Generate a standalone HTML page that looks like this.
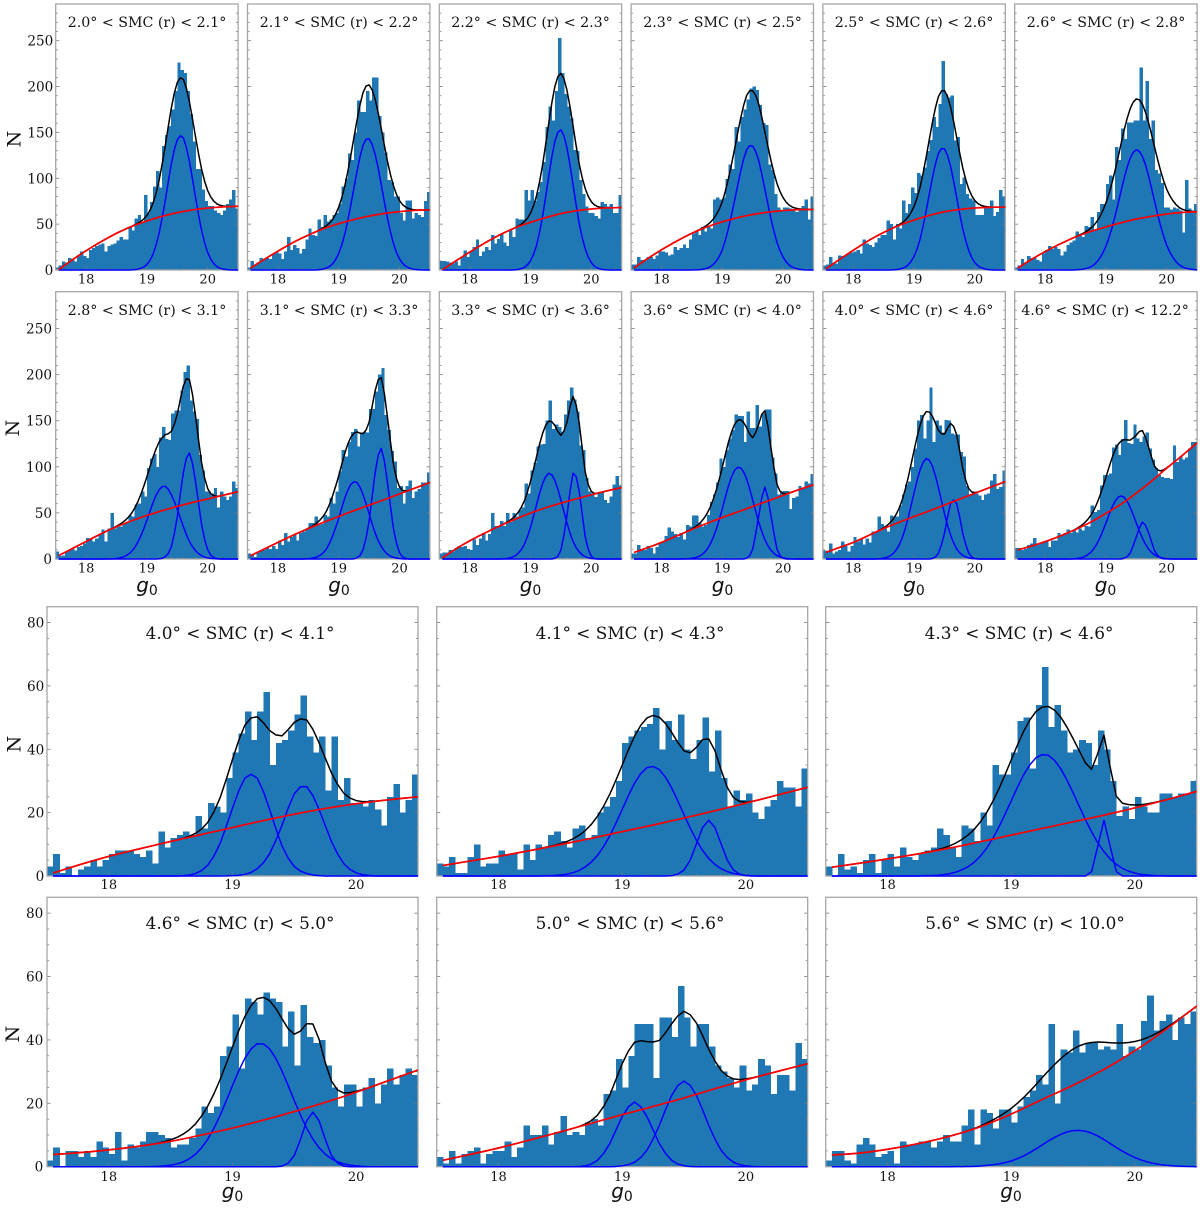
<!DOCTYPE html>
<html lang="en">
<head>
<meta charset="utf-8">
<title>SMC radial g0 histograms</title>
<style>
html,body{margin:0;padding:0;background:#fff;}
svg{display:block;}
.ttl{font-family:"DejaVu Serif","Liberation Serif",serif;fill:#111;text-anchor:middle;}
.t1{font-size:14.2px;}
.t2{font-size:16.9px;}
.ylab{font-family:"DejaVu Serif","Liberation Serif",serif;font-size:19px;fill:#111;text-anchor:middle;}
.xlab{font-family:"DejaVu Sans","Liberation Sans",sans-serif;font-size:20px;font-style:italic;fill:#111;text-anchor:middle;}
.xlab tspan{font-style:normal;font-size:14px;}
.tick{font-family:"DejaVu Serif","Liberation Serif",serif;fill:#111;}
</style>
</head>
<body>
<svg id="fig" width="1200" height="1209" viewBox="0 0 1200 1209" xmlns="http://www.w3.org/2000/svg">
<rect x="0" y="0" width="1200" height="1209" fill="#ffffff"/>
<g id="marks"></g>

<text class="ttl t1" x="147" y="27">2.0° &lt; SMC (r) &lt; 2.1°</text>
<text class="ttl t1" x="339" y="27">2.1° &lt; SMC (r) &lt; 2.2°</text>
<text class="ttl t1" x="530.5" y="27">2.2° &lt; SMC (r) &lt; 2.3°</text>
<text class="ttl t1" x="722.5" y="27">2.3° &lt; SMC (r) &lt; 2.5°</text>
<text class="ttl t1" x="914" y="27">2.5° &lt; SMC (r) &lt; 2.6°</text>
<text class="ttl t1" x="1106" y="27">2.6° &lt; SMC (r) &lt; 2.8°</text>
<text class="ttl t1" x="147" y="315">2.8° &lt; SMC (r) &lt; 3.1°</text>
<text class="ttl t1" x="339" y="315">3.1° &lt; SMC (r) &lt; 3.3°</text>
<text class="ttl t1" x="530.5" y="315">3.3° &lt; SMC (r) &lt; 3.6°</text>
<text class="ttl t1" x="722.5" y="315">3.6° &lt; SMC (r) &lt; 4.0°</text>
<text class="ttl t1" x="914" y="315">4.0° &lt; SMC (r) &lt; 4.6°</text>
<text class="ttl t1" x="1105" y="315">4.6° &lt; SMC (r) &lt; 12.2°</text>
<text class="ttl t2" x="240" y="639">4.0° &lt; SMC (r) &lt; 4.1°</text>
<text class="ttl t2" x="630" y="639">4.1° &lt; SMC (r) &lt; 4.3°</text>
<text class="ttl t2" x="1019" y="639">4.3° &lt; SMC (r) &lt; 4.6°</text>
<text class="ttl t2" x="240" y="929">4.6° &lt; SMC (r) &lt; 5.0°</text>
<text class="ttl t2" x="630" y="929">5.0° &lt; SMC (r) &lt; 5.6°</text>
<text class="ttl t2" x="1025" y="929">5.6° &lt; SMC (r) &lt; 10.0°</text>

<text class="ylab" transform="translate(20.5,139) rotate(-90)">N</text>
<text class="ylab" transform="translate(19,428) rotate(-90)">N</text>
<text class="ylab" transform="translate(20.5,744) rotate(-90)">N</text>
<text class="ylab" transform="translate(19,1034) rotate(-90)">N</text>

<text class="xlab" x="147" y="592">g<tspan dy="3">0</tspan></text>
<text class="xlab" x="339" y="592">g<tspan dy="3">0</tspan></text>
<text class="xlab" x="530.5" y="592">g<tspan dy="3">0</tspan></text>
<text class="xlab" x="722.5" y="592">g<tspan dy="3">0</tspan></text>
<text class="xlab" x="914" y="592">g<tspan dy="3">0</tspan></text>
<text class="xlab" x="1105.5" y="592">g<tspan dy="3">0</tspan></text>
<text class="xlab" x="232.5" y="1198">g<tspan dy="3">0</tspan></text>
<text class="xlab" x="622" y="1198">g<tspan dy="3">0</tspan></text>
<text class="xlab" x="1011" y="1198">g<tspan dy="3">0</tspan></text>
</svg>

<script>
// ---- bins and tick labels ----
const binStart = 17.5;
const binWidth = 0.05;
const xTickLabels = [18, 19, 20];
const yTickLabelsUpper = [0, 50, 100, 150, 200, 250];
const yTickLabelsLower = [0, 20, 40, 60, 80];

// ---- histogram counts, one array per panel ----
const hist01 = [3,5,9,8,13,11,9,15,20,15,13,22,24,26,28,29,20,26,28,29,32,36,33,33,47,43,56,60,52,82,62,74,91,108,90,135,147,157,175,195,226,218,215,195,170,140,110,110,88,75,70,70,65,62,60,65,72,77,87,67];
const hist02 = [3,10,5,8,13,12,13,12,18,20,18,12,20,36,22,27,24,18,23,33,45,38,37,55,47,60,53,55,60,62,72,91,100,127,120,150,185,172,172,195,185,210,210,168,150,128,98,96,80,80,62,54,76,76,56,62,60,58,75,85];
const hist03 = [10,10,9,8,7,9,5,14,21,14,20,25,33,15,20,25,22,38,29,34,40,30,26,43,36,56,55,55,87,76,87,75,85,96,118,156,178,163,195,253,215,192,178,165,131,130,98,83,69,62,62,59,56,74,72,69,72,62,62,82];
const hist04 = [6,6,14,11,10,14,14,12,16,20,20,19,16,17,25,22,24,28,24,33,40,43,38,47,42,47,45,77,79,77,79,99,115,110,156,140,167,175,186,198,200,196,180,160,158,115,109,83,68,65,68,68,67,66,63,66,70,77,55,80];
const hist05 = [5,6,14,7,7,16,15,16,18,19,20,22,18,33,29,27,25,30,35,38,38,54,50,33,50,45,76,62,72,90,84,106,103,112,130,142,167,156,181,228,192,188,190,141,145,94,101,83,78,76,60,60,60,69,68,76,59,63,87,80];
const hist06 = [3,5,12,8,15,13,14,11,9,18,22,26,23,25,23,16,20,27,30,32,42,38,36,48,47,58,43,63,72,72,94,103,77,134,120,154,143,161,161,163,163,221,163,206,143,163,109,105,95,68,68,66,68,67,65,41,98,67,65,72];
const hist07 = [8,3,4,8,10,11,9,13,14,17,23,22,19,22,26,32,19,33,50,33,35,35,38,39,47,46,59,60,73,68,99,109,114,100,132,143,130,129,158,161,161,183,203,210,172,160,152,113,96,73,73,71,77,56,73,68,64,68,84,77];
const hist08 = [6,5,2,7,9,10,12,11,14,11,20,15,28,19,24,26,20,28,30,32,39,39,46,37,38,48,46,66,60,73,95,118,111,127,138,141,122,137,138,137,163,163,182,200,207,156,140,117,106,77,79,60,79,85,66,73,76,83,83,94];
const hist09 = [6,7,7,10,8,12,14,13,14,11,10,21,15,22,28,20,27,50,36,36,41,36,50,40,50,46,53,56,82,71,96,104,122,124,125,150,172,141,146,143,138,157,172,186,173,160,123,118,88,73,71,67,71,72,64,61,68,81,90,80];
const hist10 = [6,6,15,11,10,14,12,6,13,17,19,25,34,30,27,24,28,21,37,35,47,47,39,35,37,48,62,70,83,109,100,118,131,140,157,155,155,127,160,142,142,167,144,158,162,162,110,93,70,73,74,74,54,66,68,79,77,84,82,92];
const hist11 = [9,7,17,6,8,10,19,14,8,14,24,19,22,16,22,18,30,30,46,38,33,30,47,46,46,58,70,81,84,100,120,150,156,131,150,186,127,150,145,137,151,150,136,135,135,116,111,79,70,72,71,69,64,70,71,85,92,76,78,96];
const hist12 = [12,12,10,11,15,17,23,15,17,18,20,13,20,20,28,26,28,32,28,31,29,33,31,36,35,58,51,53,80,91,91,93,121,124,113,130,151,126,125,146,131,127,133,137,120,108,99,91,89,88,88,87,123,105,111,108,110,120,127,127];
const hist13 = [3,7,1,3,0,2,3,5,3,5,7,8,8,8,7,6,8,4,14,9,12,13,14,13,19,15,23,22,20,31,39,45,52,43,52,58,35,42,43,46,51,57,44,39,44,27,44,24,31,23,23,22,24,21,16,25,29,20,24,32];
const hist14 = [4,3,6,1,1,6,10,3,4,4,8,7,7,2,10,5,10,9,13,14,11,9,15,16,12,13,20,22,25,30,42,44,46,47,48,53,40,49,43,51,40,37,43,50,33,46,31,22,27,24,26,20,18,22,24,30,28,28,22,34];
const hist15 = [3,0,7,2,3,1,5,7,1,5,7,3,9,6,5,7,8,9,15,13,9,6,16,15,11,20,16,35,32,32,39,49,50,34,54,66,47,54,46,39,40,43,42,35,46,40,30,19,22,18,25,22,20,20,26,26,25,26,26,30];
const hist16 = [2,6,0,5,5,3,5,3,8,6,4,11,2,7,6,8,11,11,10,9,6,7,7,9,12,19,17,19,35,38,48,31,53,52,48,55,53,52,38,49,32,51,41,39,40,32,25,19,26,26,19,25,28,20,26,31,26,29,31,29];
const hist17 = [3,1,5,1,4,5,6,1,4,5,5,8,3,6,13,10,10,13,7,11,16,10,11,10,14,15,13,23,24,34,25,35,45,45,45,28,47,47,41,57,47,38,45,45,38,32,30,28,25,32,24,26,34,32,23,29,29,24,39,34];
const hist18 = [2,5,5,2,1,7,9,7,3,4,5,1,8,7,7,8,8,6,8,10,8,8,13,18,7,18,17,12,18,18,14,19,22,24,29,26,45,20,37,36,43,36,39,39,37,38,37,45,35,38,37,46,54,43,46,48,40,47,45,49];

// ---- background (red) curve values, read on bgGrid ----
const bgGrid = [17.5,17.75,18,18.25,18.5,18.75,19,19.25,19.5,19.75,20,20.25,20.5];
const bg01 = [-2,10,21,31,40,47.5,53.5,58.5,62.5,65.5,67.5,68.8,69.5];
const bg02 = [0,10.5,20.5,30,38,45,50.5,55,58.8,61.6,63.6,65,65.6];
const bg03 = [-2,9,19.5,29.5,38.5,46,52,57,61.5,64.5,66.5,67.7,68];
const bg04 = [0,11.5,22,31.5,40,47,52.5,57,60.5,63,64.8,65.8,66];
const bg05 = [-1,10.5,21.5,32,41,48.5,54.5,59.5,63.5,66,67.6,68.4,68.5];
const bg06 = [0,10.5,20,28.5,36,42,47,51.5,55.5,58.5,61,62.7,63.5];
const bg07 = [2,10.5,19,27.5,35,41.5,47.2,52.4,57.1,61.3,65.2,69.1,73];
const bg08 = [2,10,18,25.8,33,39.8,46.2,52.4,58.4,64.4,70.6,76.8,83];
const bg09 = [-1,10,19.7,28.2,36,43.2,49.8,55.6,60.6,65.2,69.6,73.8,77.5];
const bg10 = [6,11.8,18,25,32,38.8,45,51,57,63,69,75,80.5];
const bg11 = [6,12,18,25.5,33,39.8,46,52.2,58.5,65,71.3,77.7,84];
const bg12 = [9,13.5,18.8,25,32,40,49.5,59.5,71.5,84.5,98.5,112,126];
const bg13 = [.3,3.4,6.2,8.6,10.9,13.1,15.3,17.5,19.5,21.3,22.8,24,25];
const bg14 = [3,4.6,6.2,8,9.9,11.9,14,16.1,18.3,20.6,23,25.5,28];
const bg15 = [2.5,3.9,5.4,7,8.8,10.8,12.9,15,17.1,19.2,21.5,24,26.7];
const bg16 = [3.7,4.4,5.3,6.5,8,10,12.2,14.7,17.4,20.3,23.5,27,30.5];
const bg17 = [1.6,3.7,5.9,8.4,11,13.7,16.4,19,21.7,24.6,27.4,30,32.5];
const bg18 = [3.6,4.2,5.5,7.3,9.6,12.6,16.6,21.2,25.7,30.7,36.6,43.3,50.7];

// ---- component (blue) curve values, read on compGrid or a finer local grid ----
const compGrid = [18.3,18.4,18.5,18.6,18.7,18.8,18.9,19,19.1,19.2,19.3,19.4,19.5,19.6,19.7,19.8,19.9,20,20.1,20.2,20.3,20.4,20.5];
const blue01 = [0,0,0,0,0,.4,1.8,6,17,40,75,115,142,144,118,79,43,19,7,2,.5,0,0];
const blue02 = [0,0,0,0,.6,2.2,6.8,18,39,71,107,136,143,126,93,57,29,12,4.4,1.3,.3,0,0];
const blue03 = [0,0,0,0,0,.7,3,10,27,59,102,140,153,133,93,51,23,8,2.2,.5,0,0,0];
const blue04 = [0,0,0,.3,1.1,3.5,9.7,22,45,75,107,131,135,119,88,56,30,14,5.4,1.8,.5,0,0];
const blue05 = [0,0,0,0,.4,1.6,5.4,15,34,65,100,127,132,113,79,45,21,8,2.6,.7,0,0,0];
const blue06 = [0,0,.2,.7,2.1,5.5,13,26,46,72,100,122,131,124,103,75,48,27,14,6,2.3,.8,.2];
const blue07a = [0,.2,.6,2,5.4,12.5,25,42,61,75,79,70,54,35,19,9,3.6,1.2,.4,0,0,0,0];
const blue07b = [0,0,0,0,0,0,0,0,0,.3,2.4,13,46,94,115,84,37,10,1.6,.2,0,0,0];
const blue08a = [0,0,.4,1.4,4.3,11,25,44,66,81,83,70,49,28,13.5,5.3,1.8,.5,0,0,0,0,0];
const blue08b = [0,0,0,0,0,0,0,0,0,0,1.3,10,41,94,120,84,33,7,.8,0,0,0,0];
const blue09a = [0,0,0,.5,2,6.3,16,34.5,59,82,93,85.5,64,39,19,7.8,2.5,.7,0,0,0,0,0];
const blue09b = [0,0,0,0,0,0,0,0,0,0,0,.8,9.6,47,93,74,24,3.1,.2,0,0,0,0];
const blue10a = [0,.2,.7,2.4,6.7,16,32,54.5,79,96,99,87,64,40,21,9.6,3.7,1.2,.3,0,0,0,0];
const blue10b = [0,0,0,0,0,0,0,0,0,0,0,.9,10.6,47,78,47,10.6,.9,0,0,0,0,0];
const blue11a = [0,.2,.9,3.2,9.3,22,44,72,97,109,101,77.5,49,26,11,4,1.2,.3,0,0,0,0,0];
const blue11b = [0,0,0,0,0,0,0,0,0,0,.6,6.2,28,60,60,28,6.2,.6,0,0,0,0,0];
const blue12a = [0,0,.4,1.5,4.5,11,22.7,39,56,67,67,56,39,22.7,11,4.5,1.5,.4,0,0,0,0,0];
const blue12b = [0,0,0,0,0,0,0,0,0,0,.8,6.5,24,40,29,9,1.2,.1,0,0,0,0,0];
const blue13a = [0,0,0,.1,.8,3.4,10.3,21.4,30.9,30.9,21,9.5,3,.8,.1,0,0,0,0,0,0,0,0];
const blue13b = [0,0,0,0,0,0,0,.1,.5,2.3,7,16,26,28.2,21,10.9,3.9,1,.2,0,0,0,0];
const blue14a = [0,.1,.3,1,2.8,6.5,12.7,21,29.3,34.2,33.6,27.8,19.3,11.3,5.5,2.3,.8,.2,0,0,0,0,0];
const fineGrid14 = [19.4,19.45,19.5,19.55,19.6,19.65,19.7,19.75,19.8,19.85,19.9,19.95,20];
const blue14b = [.1,.6,1.9,5,10.1,15.3,17.6,15.3,10.1,5,1.9,.6,.1];
const blue15a = [.1,.2,.7,1.9,4.3,8.7,15.4,23.7,31.9,37.3,38.1,33.9,26.3,17.8,10.5,5.4,2.4,.9,.3,.1,0,0,0];
const fineGrid15 = [19.6,19.65,19.7,19.75,19.8,19.85,19.9];
const blue15b = [0,1.4,9.4,17.6,9.4,1.4,0];
const blue16a = [0,.1,.5,1.5,3.9,8.7,16.2,25.6,34.2,38.8,37.2,30.2,20.8,12.1,6,2.5,.9,.3,0,0,0,0,0];
const fineGrid16 = [19.35,19.4,19.45,19.5,19.55,19.6,19.65,19.7,19.75,19.8,19.85,19.9,19.95];
const blue16b = [0,.2,1.1,3.6,8.6,14.5,17.2,14.5,8.6,3.6,1.1,.2,0];
const blue17a = [0,0,0,0,.3,2,7.3,15.8,20.4,15.8,7.3,2,.3,0,0,0,0,0,0,0,0,0,0];
const blue17b = [0,0,0,0,0,0,0,.3,1.4,5.2,13,22.5,27,22.5,13,5.2,1.4,.3,0,0,0,0,0];
const blue18 = [0,0,0,.04,.1,.4,.9,1.8,3.4,5.6,8.1,10.2,11.4,11.2,9.7,7.3,4.9,2.9,1.5,.7,.3,.1,0];

// ---- per-panel references to the series above ----
const panelHists = [hist01,hist02,hist03,hist04,hist05,hist06,hist07,hist08,hist09,hist10,hist11,hist12,hist13,hist14,hist15,hist16,hist17,hist18];
const panelBgs = [bg01,bg02,bg03,bg04,bg05,bg06,bg07,bg08,bg09,bg10,bg11,bg12,bg13,bg14,bg15,bg16,bg17,bg18];
const panelComps = [
  [[compGrid,blue01]],
  [[compGrid,blue02]],
  [[compGrid,blue03]],
  [[compGrid,blue04]],
  [[compGrid,blue05]],
  [[compGrid,blue06]],
  [[compGrid,blue07a],[compGrid,blue07b]],
  [[compGrid,blue08a],[compGrid,blue08b]],
  [[compGrid,blue09a],[compGrid,blue09b]],
  [[compGrid,blue10a],[compGrid,blue10b]],
  [[compGrid,blue11a],[compGrid,blue11b]],
  [[compGrid,blue12a],[compGrid,blue12b]],
  [[compGrid,blue13a],[compGrid,blue13b]],
  [[compGrid,blue14a],[fineGrid14,blue14b]],
  [[compGrid,blue15a],[fineGrid15,blue15b]],
  [[compGrid,blue16a],[fineGrid16,blue16b]],
  [[compGrid,blue17a],[compGrid,blue17b]],
  [[compGrid,blue18]]
];

// ---- layout ----
const NS = 'http://www.w3.org/2000/svg';
const X_MIN = 17.5, X_MAX = 20.5;
const upperLefts = [55.7,247.5,439.3,631.1,822.9,1014.7];
const lowerLefts = [47,436.7,825.7];
const rowsUpper = [{top:4,bottom:270,tickY:283.5,labelX:53.3},{top:291.7,bottom:559,tickY:572.5,labelX:52}];
const rowsLower = [{top:606.7,bottom:876,tickY:888.8,labelX:44.3},{top:897.3,bottom:1166.7,tickY:1181,labelX:43.3}];

function frameFor(index) {
  if (index < 12) {
    const row = rowsUpper[Math.floor(index / 6)];
    return {left:upperLefts[index % 6],width:182.4,top:row.top,bottom:row.bottom,tickY:row.tickY,labelX:row.labelX,
      yMax:290,yLabels:yTickLabelsUpper,yMinor:10,showY:index % 6 === 0,tickSize:13};
  }
  const row = rowsLower[Math.floor((index - 12) / 3)];
  return {left:lowerLefts[(index - 12) % 3],width:371,top:row.top,bottom:row.bottom,tickY:row.tickY,labelX:row.labelX,
    yMax:85,yLabels:yTickLabelsLower,yMinor:5,showY:(index - 12) % 3 === 0,tickSize:13};
}

function xScale(f, v) { return f.left + (v - X_MIN) / (X_MAX - X_MIN) * f.width; }
function yScale(f, v) { return f.bottom - v / f.yMax * (f.bottom - f.top); }

function curveValue(xs, ys, x) {
  const n = xs.length;
  if (x < xs[0] - 1e-6 || x > xs[n - 1] + 1e-6) return 0;
  const h = xs[1] - xs[0];
  let i = Math.floor((x - xs[0]) / h + 1e-6);
  if (i > n - 2) i = n - 2;
  const t = (x - xs[i]) / h;
  const p1 = ys[i], p2 = ys[i + 1];
  const p0 = i > 0 ? ys[i - 1] : 2 * p1 - p2;
  const p3 = i < n - 2 ? ys[i + 2] : 2 * p2 - p1;
  return 0.5 * (2 * p1 + (p2 - p0) * t + (2 * p0 - 5 * p1 + 4 * p2 - p3) * t * t + (3 * p1 - p0 - 3 * p2 + p3) * t * t * t);
}

function linePath(f, xs, vals) {
  let d = '';
  for (let i = 0; i < xs.length; i++) {
    d += (i ? 'L' : 'M') + xScale(f, xs[i]).toFixed(2) + ' ' + yScale(f, vals[i]).toFixed(2);
  }
  return d;
}

const svgMarks = document.getElementById('marks');
const defs = document.createElementNS(NS, 'defs');
svgMarks.appendChild(defs);

const sampleX = [];
for (let i = 1; i <= 60; i++) sampleX.push(binStart + i * binWidth);

panelHists.forEach(function (hist, p) {
  const f = frameFor(p);
  const g = document.createElementNS(NS, 'g');
  
  
  svgMarks.appendChild(g);

  const clip = document.createElementNS(NS, 'clipPath');
  clip.setAttribute('id', 'clip' + p);
  const clipRect = document.createElementNS(NS, 'rect');
  clipRect.setAttribute('x', f.left);
  clipRect.setAttribute('y', f.top);
  clipRect.setAttribute('width', f.width);
  clipRect.setAttribute('height', f.bottom - f.top + 1);
  clip.appendChild(clipRect);
  defs.appendChild(clip);

  const bars = document.createElementNS(NS, 'g');
  bars.setAttribute('shape-rendering', 'crispEdges');
  bars.setAttribute('fill', '#1f77b4');
  bars.setAttribute('clip-path', 'url(#clip' + p + ')');
  
  
  g.appendChild(bars);
  hist.forEach(function (count, i) {
    const x0 = xScale(f, binStart + i * binWidth);
    const x1 = xScale(f, binStart + (i + 1) * binWidth);
    const y = yScale(f, count);
    const bar = document.createElementNS(NS, 'rect');
    
    
    bar.setAttribute('x', x0.toFixed(2));
    bar.setAttribute('y', y.toFixed(2));
    bar.setAttribute('width', (x1 - x0 + 0.4).toFixed(2));
    bar.setAttribute('height', Math.max(0, f.bottom - y).toFixed(2));
    bars.appendChild(bar);
  });

  const ticks = document.createElementNS(NS, 'g');
  ticks.setAttribute('stroke', '#777777');
  ticks.setAttribute('stroke-width', '0.8');
  
  
  g.appendChild(ticks);

  const addTick = function (x1, y1, x2, y2) {
    const t = document.createElementNS(NS, 'line');
    
    
    t.setAttribute('x1', x1.toFixed(2));
    t.setAttribute('y1', y1.toFixed(2));
    t.setAttribute('x2', x2.toFixed(2));
    t.setAttribute('y2', y2.toFixed(2));
    ticks.appendChild(t);
  };

  for (let v = 17.6; v < 20.5; v += 0.2) {
    const isMajor = Math.abs(v - Math.round(v)) < 0.01;
    const px = xScale(f, v);
    addTick(px, f.bottom, px, f.bottom - (isMajor ? 3.5 : 2));
  }
  for (let v = f.yMinor; v < f.yMax; v += f.yMinor) {
    const isMajor = f.yLabels.indexOf(v) >= 0;
    const py = yScale(f, v);
    addTick(f.left, py, f.left + (isMajor ? 3.5 : 2), py);
    addTick(f.left + f.width, py, f.left + f.width - (isMajor ? 3.5 : 2), py);
  }

  const frame = document.createElementNS(NS, 'rect');
  
  
  frame.setAttribute('x', f.left);
  frame.setAttribute('y', f.top);
  frame.setAttribute('width', f.width);
  frame.setAttribute('height', f.bottom - f.top);
  frame.setAttribute('fill', 'none');
  frame.setAttribute('stroke', '#a6a6a6');
  frame.setAttribute('stroke-width', '1.3');
  g.appendChild(frame);

  const bgVals = sampleX.map(function (x) { return curveValue(bgGrid, panelBgs[p], x); });
  const compVals = panelComps[p].map(function (c) {
    return sampleX.map(function (x) { return Math.max(0, curveValue(c[0], c[1], x)); });
  });
  const totalVals = bgVals.map(function (v, i) {
    let sum = v;
    compVals.forEach(function (c) { sum += c[i]; });
    return sum;
  });

  const lines = document.createElementNS(NS, 'g');
  lines.setAttribute('fill', 'none');
  lines.setAttribute('stroke-linejoin', 'round');
  lines.setAttribute('clip-path', 'url(#clip' + p + ')');
  
  
  g.appendChild(lines);

  const total = document.createElementNS(NS, 'path');
  
  
  total.setAttribute('d', linePath(f, sampleX, totalVals));
  total.setAttribute('stroke', '#000000');
  total.setAttribute('stroke-width', '1.5');
  lines.appendChild(total);

  compVals.forEach(function (c) {
    const comp = document.createElementNS(NS, 'path');
    
    
    comp.setAttribute('d', linePath(f, sampleX, c));
    comp.setAttribute('stroke', '#0000ff');
    comp.setAttribute('stroke-width', '1.5');
    lines.appendChild(comp);
  });

  const bgLine = document.createElementNS(NS, 'path');
  
  
  bgLine.setAttribute('d', linePath(f, sampleX, bgVals));
  bgLine.setAttribute('stroke', '#ff0000');
  bgLine.setAttribute('stroke-width', '1.7');
  lines.appendChild(bgLine);

  xTickLabels.forEach(function (v) {
    const label = document.createElementNS(NS, 'text');
    
    
    label.setAttribute('class', 'tick');
    label.setAttribute('font-size', f.tickSize);
    label.setAttribute('text-anchor', 'middle');
    label.setAttribute('x', xScale(f, v).toFixed(2));
    label.setAttribute('y', f.tickY);
    label.textContent = String(v);
    g.appendChild(label);
  });

  if (f.showY) {
    f.yLabels.forEach(function (v) {
      const label = document.createElementNS(NS, 'text');
      
      
      label.setAttribute('class', 'tick');
      label.setAttribute('font-size', '13.6');
      label.setAttribute('text-anchor', 'end');
      label.setAttribute('x', f.labelX);
      label.setAttribute('y', (yScale(f, v) + 5).toFixed(2));
      label.textContent = String(v);
      g.appendChild(label);
    });
  }
});
</script>
</body>
</html>
